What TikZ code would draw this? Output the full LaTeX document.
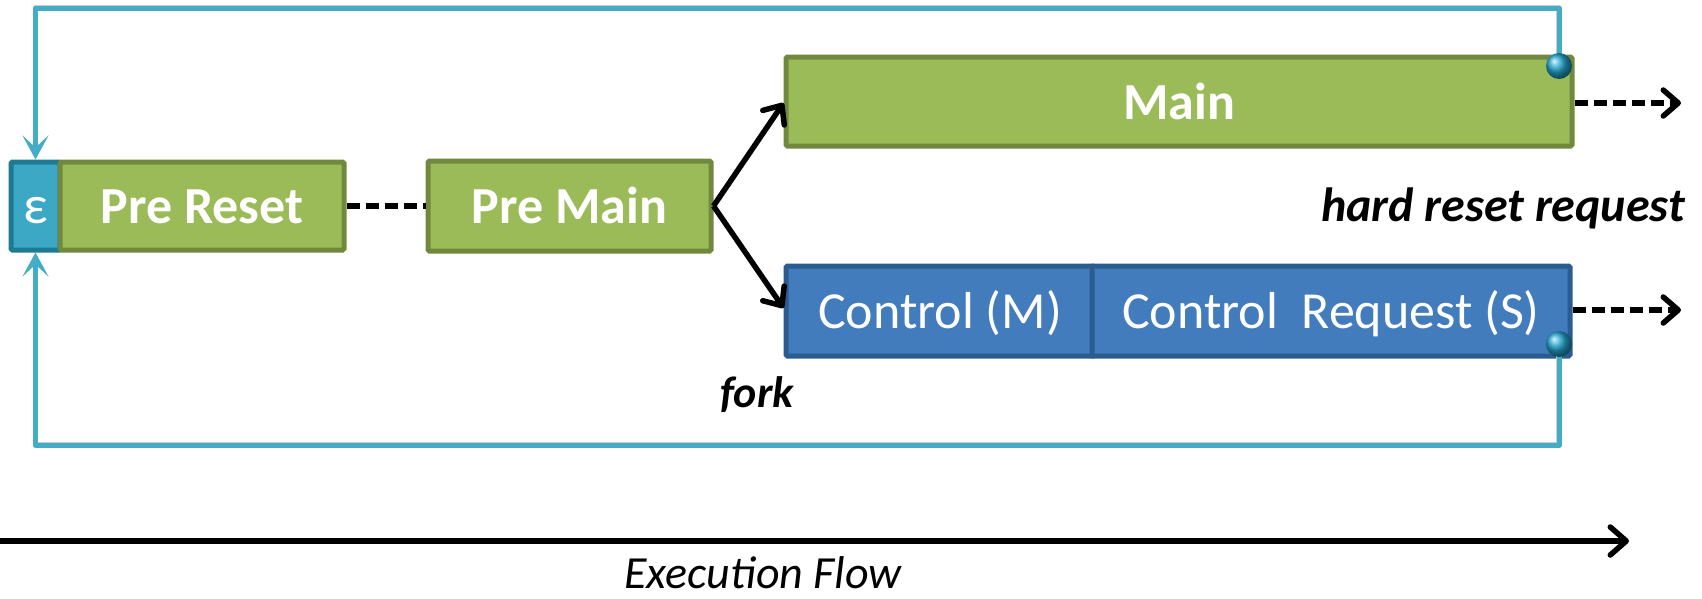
\documentclass[tikz,border=0pt]{standalone}
\usepackage{fontspec}
\setmainfont{Carlito}
\usetikzlibrary{arrows.meta,shadings}

\definecolor{boxgreen}{HTML}{9BBB59}
\definecolor{boxgreenline}{HTML}{71893F}
\definecolor{boxblue}{HTML}{427CBD}
\definecolor{boxblueline}{HTML}{2B5C8F}
\definecolor{epsfill}{HTML}{3DA8C6}
\definecolor{epsline}{HTML}{1D7A93}
\definecolor{loopcol}{HTML}{45ACC8}
\definecolor{ballcol}{HTML}{22A6D0}

\begin{document}
\begin{tikzpicture}[x=1pt,y=-1pt,
  box/.style={draw, line width=5pt, rounded corners=1.5pt, inner sep=0pt,
    text height=35pt, text depth=0pt, text=white},
  greenbox/.style={box, fill=boxgreen, draw=boxgreenline,
    font=\fontsize{52}{62}\selectfont\bfseries},
  bluebox/.style={box, fill=boxblue, draw=boxblueline,
    font=\fontsize{52}{62}\selectfont},
  epsbox/.style={box, fill=epsfill, draw=epsline,
    font=\fontsize{54}{64}\selectfont},
  loopline/.style={draw=loopcol, line width=5pt, line join=round},
  loopshadow/.style={draw=black!20, line width=5.5pt, line join=round,
    shift={(1.5,3)}},
  looptip/.style={-{Stealth[length=24pt,width=26pt,inset=12pt]}},
  forkarrow/.style={draw=black, line width=5.5pt,
    -{Straight Barb[length=15pt,width=26pt,round]}},
  linkdash/.style={draw=black, line width=5.5pt, dash pattern=on 13pt off 6pt},
  outarrow/.style={linkdash, -{Straight Barb[length=15pt,width=26pt,round]}},
  flowarrow/.style={draw=black, line width=5.5pt,
    -{Straight Barb[length=16pt,width=28pt,round]}},
  joint/.style={circle, minimum size=26pt, inner sep=0pt,
    shading=ball, ball color=ballcol},
  tag/.style={font=\fontsize{48}{58}\selectfont\bfseries\itshape, inner sep=0pt},
  flowtag/.style={font=\fontsize{46}{55}\selectfont\itshape, inner sep=0pt}
]
\useasboundingbox (0,0) rectangle (1702,598);

% stages
\node[epsbox, minimum width=49pt, minimum height=88pt] (eps) at (35.5,206) {ε};
\node[greenbox, minimum width=284pt, minimum height=88pt] (prereset) at (202,206) {Pre Reset};
\node[greenbox, minimum width=283pt, minimum height=90pt] (premain) at (569.5,206) {Pre Main};
\node[greenbox, minimum width=786pt, minimum height=89pt] (main) at (1179,101.5) {Main};
\node[bluebox, minimum width=308pt, minimum height=90pt] (ctrlm) at (940,311) {Control (M)};
\node[bluebox, minimum width=478pt, minimum height=90pt] (ctrls) at (1331,311) {Control~~Request (S)};

% reset loops back to the epsilon stage
\coordinate (topy) at (0,8);
\coordinate (boty) at (0,445);
\coordinate (jmain) at (1559,66);
\coordinate (jctrl) at (1559,344);

\path[loopshadow] (jmain) -- (jmain |- topy) -- (eps.north |- topy) -- ([yshift=12pt]eps.north);
\path[loopshadow] (jctrl) -- (jctrl |- boty) -- (eps.south |- boty) -- ([yshift=-12pt]eps.south);
\draw[loopline, looptip] (jmain) -- (jmain |- topy) -- (eps.north |- topy) -- (eps.north);
\draw[loopline, looptip] (jctrl) -- (jctrl |- boty) -- (eps.south |- boty) -- (eps.south);

\node[joint] (jointmain) at (jmain) {};
\node[joint] (jointctrl) at (jctrl) {};

% links between stages
\draw[linkdash] (prereset.east) -- (premain.west);
\draw[forkarrow] (premain.east) -- ([yshift=-1.5pt]main.west);
\draw[forkarrow] (premain.east) -- ([yshift=3pt]ctrlm.west);

\coordinate (mainnext) at (1681,103);
\coordinate (ctrlnext) at (1681,310);
\draw[outarrow] (main.east |- mainnext) -- (mainnext);
\draw[outarrow] (ctrls.east |- ctrlnext) -- (ctrlnext);

% labels
\node[tag, anchor=base] (hardreset) at (1503,221) {hard reset request};
\node[tag, anchor=base, font=\fontsize{44}{53}\selectfont\bfseries\itshape] (fork) at (757,407) {fork};

% time axis
\coordinate (flowstart) at (0,541);
\coordinate (flowend) at (1629,541);
\draw[flowarrow] (flowstart) -- (flowend);
\node[flowtag, anchor=base] (flowlabel) at (763,588) {Execution Flow};
\end{tikzpicture}
\end{document}
